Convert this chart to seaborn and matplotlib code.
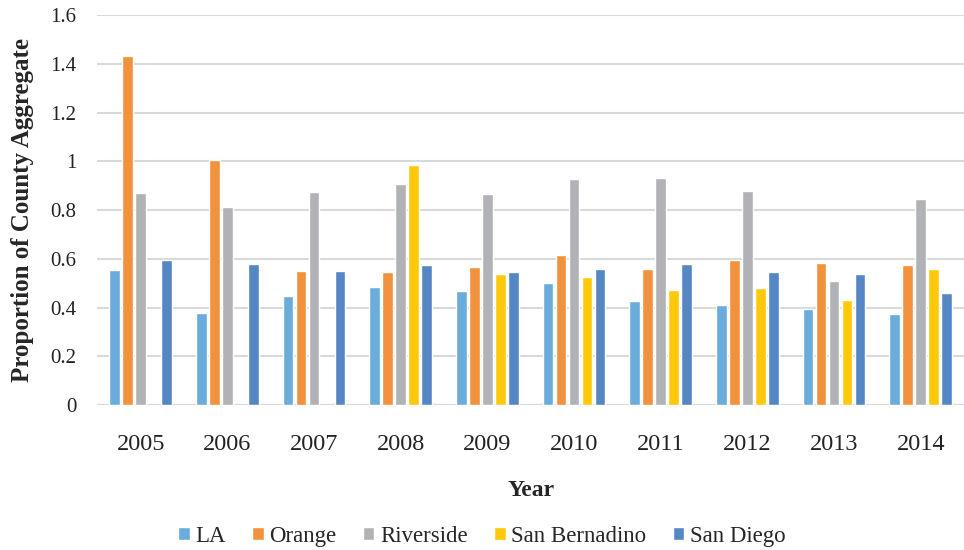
import numpy as np
import pandas as pd
import matplotlib
matplotlib.use("Agg")
import matplotlib.pyplot as plt
import seaborn as sns
from matplotlib.patches import Patch

# values
years = ["2005", "2006", "2007", "2008", "2009", "2010", "2011", "2012", "2013", "2014"]
counties = ["LA", "Orange", "Riverside", "San Bernadino", "San Diego"]
la = [0.553, 0.377, 0.448, 0.483, 0.466, 0.501, 0.426, 0.410, 0.393, 0.374]
orange = [1.434, 1.006, 0.549, 0.545, 0.568, 0.615, 0.560, 0.593, 0.583, 0.574]
riverside = [0.870, 0.811, 0.875, 0.908, 0.864, 0.926, 0.930, 0.877, 0.507, 0.847]
san_bernadino = [np.nan, np.nan, np.nan, 0.983, 0.538, 0.526, 0.471, 0.479, 0.431, 0.557]
san_diego = [0.597, 0.578, 0.549, 0.574, 0.545, 0.559, 0.580, 0.544, 0.537, 0.459]
colors = ["#6aacdc", "#f2923f", "#b1b2b5", "#ffc90b", "#5587c5"]

series = [la, orange, riverside, san_bernadino, san_diego]
df = pd.concat(
    [pd.DataFrame({"Year": years, "County": c, "Value": v}) for c, v in zip(counties, series)],
    ignore_index=True,
)

sns.set_style("white")
plt.rcParams["font.family"] = ["Liberation Serif", "DejaVu Serif"]

fig = plt.figure(figsize=(9.64, 5.5), dpi=100)
ax = fig.add_axes([0.101, 0.2636, 0.899, 0.709])

sns.barplot(data=df, x="Year", y="Value", hue="County", hue_order=counties,
            order=years, palette=colors, width=0.75, gap=0.17, ax=ax,
            errorbar=None, legend=False, zorder=3, saturation=1)

ax.set_ylim(0, 1.6)
ax.set_yticks(np.arange(0, 1.61, 0.2))
ax.set_yticklabels(["0", "0.2", "0.4", "0.6", "0.8", "1", "1.2", "1.4", "1.6"])
ax.set_xlim(-0.5, len(years) - 0.5)
ax.yaxis.grid(True, color="#d9d9d9", linewidth=1.5, zorder=0)
for s in ax.spines.values():
    s.set_visible(False)
ax.axhline(0, color="#d9d9d9", linewidth=1.5, zorder=1)
ax.tick_params(axis="both", length=0, colors="#222222")
ax.tick_params(axis="x", pad=21, labelsize=17.5)
ax.tick_params(axis="y", pad=15, labelsize=15)

ax.set_xlabel("Year", fontsize=17, fontweight="bold", labelpad=18)
ax.set_ylabel("Proportion of County Aggregate", fontsize=18, fontweight="bold", labelpad=12)

handles = [Patch(facecolor=c, label=n) for c, n in zip(colors, counties)]
fig.legend(handles=handles, loc="center", bbox_to_anchor=(0.5, 0.025), ncol=5,
           frameon=False, fontsize=16.5, handlelength=0.5, handleheight=0.5,
           handletextpad=0.25, columnspacing=1.15)

fig.savefig("out.png", dpi=100)
